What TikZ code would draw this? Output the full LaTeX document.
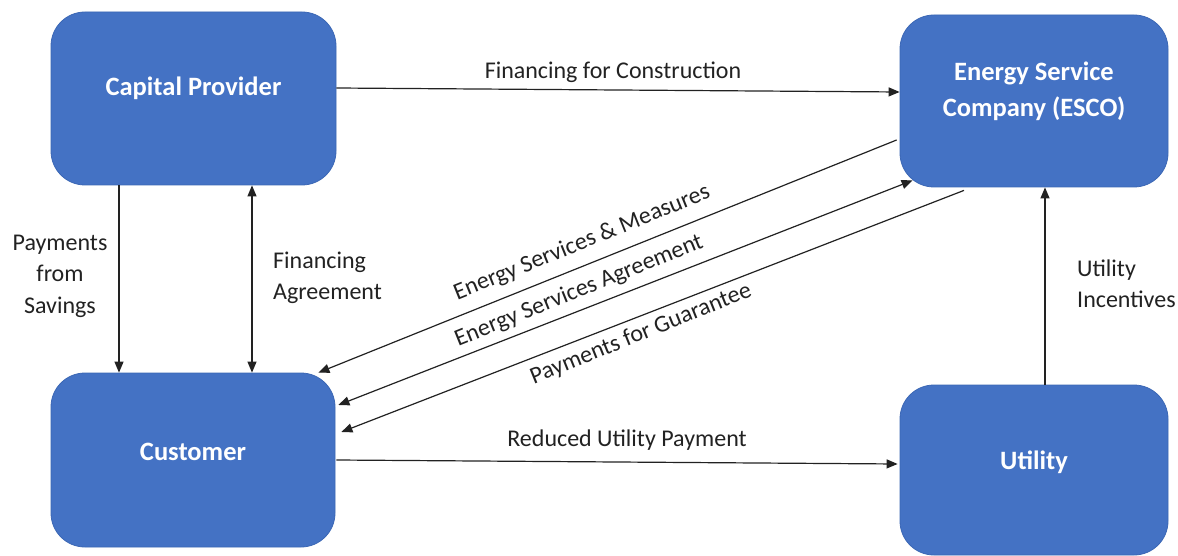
\documentclass[tikz,border=0pt]{standalone}
\usepackage{fontspec}
\setmainfont{Carlito}
\usetikzlibrary{arrows.meta}
\definecolor{boxblue}{HTML}{4472C4}
\definecolor{boxedge}{HTML}{3B67B5}
\definecolor{ink}{HTML}{222222}
\begin{document}
\begin{tikzpicture}[x=1pt,y=-1pt,
  box/.style={draw=boxedge, line width=0.8pt, fill=boxblue, rounded corners=34pt, inner sep=0pt},
  boxtext/.style={text=white, font=\fontsize{26.5}{36}\selectfont\bfseries, align=center, inner sep=0pt},
  lbl/.style={text=ink, font=\fontsize{24}{31.5}\selectfont, inner sep=0pt},
  conn/.style={draw=ink, line width=1.2pt, -{Triangle[length=11pt,width=9pt]}},
  conn2/.style={draw=ink, line width=1.2pt, {Triangle[length=11pt,width=9pt]}-{Triangle[length=11pt,width=9pt]}}]
\useasboundingbox (0,0) rectangle (1178,556);
\fill[white] (0,0) rectangle (1178,556);
% boxes
\node[box, minimum width=285pt, minimum height=173pt] (cp) at (193.5,98.5) {};
\node[box, minimum width=268pt, minimum height=172pt] (esco) at (1034,101) {};
\node[box, minimum width=284pt, minimum height=174pt] (cust) at (193,460) {};
\node[box, minimum width=268pt, minimum height=170pt] (util) at (1034,470) {};
\node[boxtext] (cpT) at ([yshift=10pt]cp.center) {Capital Provider};
\node[boxtext] (escoT) at ([yshift=10pt]esco.center) {Energy Service\\Company (ESCO)};
\node[boxtext] (custT) at ([yshift=8pt]cust.center) {Customer};
\node[boxtext] (utilT) at ([yshift=8pt]util.center) {Utility};
% connectors
\draw[conn] ([yshift=10.5pt]cp.east) -- ([yshift=9pt]esco.west);
\draw[conn] ([xshift=-74.5pt]cp.south) -- ([xshift=-74pt]cust.north);
\draw[conn2] ([xshift=58.5pt]cp.south) -- ([xshift=59pt]cust.north);
\draw[conn] ([xshift=-3pt,yshift=-39pt]esco.west) -- ([xshift=-17pt]cust.north east);
\draw[conn2] ([xshift=3pt,yshift=55pt]cust.east) -- ([xshift=13pt,yshift=7pt]esco.south west);
\draw[conn] ([xshift=-70pt,yshift=-3pt]esco.south) -- ([xshift=6pt,yshift=28pt]cust.east);
\draw[conn] ([xshift=1pt]cust.east) -- ([xshift=-2pt,yshift=6pt]util.west);
\draw[conn] ([xshift=11pt]util.north) -- ([xshift=11pt]esco.south);
% labels
\node[lbl] (l1) at (613,72) {Financing for Construction};
\node[lbl, align=center] (l2) at (60,276) {Payments\\from\\Savings};
\node[lbl, align=left, anchor=west] (l3) at (273,278) {Financing\\Agreement};
\node[lbl, rotate=22] (l4) at (582,243) {Energy Services \& Measures};
\node[lbl, rotate=22] (l5) at (579,291) {Energy Services Agreement};
\node[lbl, rotate=22] (l6) at (641,334) {Payments for Guarantee};
\node[lbl] (l7) at (627,440) {Reduced Utility Payment};
\node[lbl, align=left, anchor=west] (l8) at (1077,284) {Utility\\Incentives};
\end{tikzpicture}
\end{document}
